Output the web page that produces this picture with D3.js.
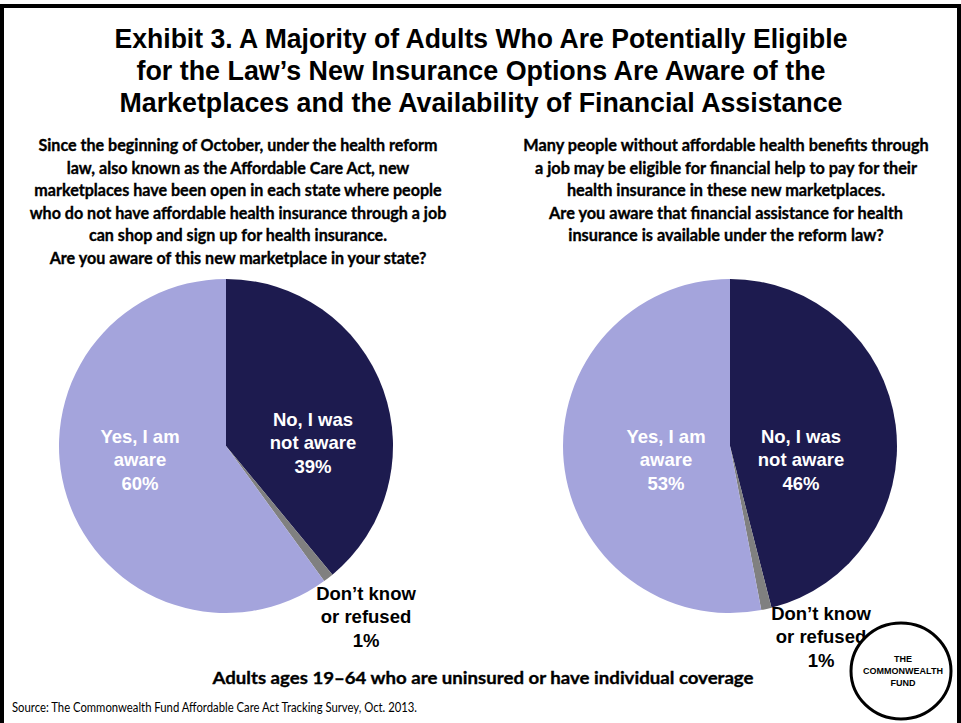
<!DOCTYPE html>
<html>
<head>
<meta charset="utf-8">
<script src="https://cdn.jsdelivr.net/npm/d3@7"></script>
<style>
  html, body { margin: 0; padding: 0; background: #fff; }
  svg { display: block; }
</style>
</head>
<body>
<script>
// Survey responses (percent of adults 19–64 uninsured or with individual coverage)
const categories = ["No, I was not aware", "Don’t know or refused", "Yes, I am aware"];
const marketplaceValues = [39, 1, 60];
const assistanceValues = [46, 1, 53];
const sliceColors = ["#1d1b4f", "#808080", "#a4a4dc"];

const titleLines = [
  "Exhibit 3. A Majority of Adults Who Are Potentially Eligible",
  "for the Law’s New Insurance Options Are Aware of the",
  "Marketplaces and the Availability of Financial Assistance"
];
const leftQuestion = [
  "Since the beginning of October, under the health reform",
  "law, also known as the Affordable Care Act, new",
  "marketplaces have been open in each state where people",
  "who do not have affordable health insurance through a job",
  "can shop and sign up for health insurance.",
  "Are you aware of this new marketplace in your state?"
];
const rightQuestion = [
  "Many people without affordable health benefits through",
  "a job may be eligible for financial help to pay for their",
  "health insurance in these new marketplaces.",
  "Are you aware that financial assistance for health",
  "insurance is available under the reform law?"
];
const noLabel = ["No, I was", "not aware"];
const yesLabel = ["Yes, I am", "aware"];
const dkLabel = ["Don’t know", "or refused"];
const footnote = "Adults ages 19–64 who are uninsured or have individual coverage";
const sourceText = "Source: The Commonwealth Fund Affordable Care Act Tracking Survey, Oct. 2013.";
const logoLines = ["THE", "COMMONWEALTH", "FUND"];

const W = 961, H = 723;
const svg = d3.select("body").append("svg").attr("width", W).attr("height", H);

// frame
svg.append("rect").attr("x", 0).attr("y", 4).attr("width", 4).attr("height", H - 4).attr("fill", "#000");
svg.append("rect").attr("x", 0).attr("y", 4).attr("width", W).attr("height", 4).attr("fill", "#000");
svg.append("rect").attr("x", 957).attr("y", 4).attr("width", 4).attr("height", H - 4).attr("fill", "#000");

// title
const titleFont = "'Liberation Sans Narrow', 'Arial Narrow', 'Liberation Sans', Arial, sans-serif";
const titleWidths = [733, 689, 723];
svg.append("g").selectAll("text").data(titleLines).join("text")
  .attr("x", 481).attr("y", (d, i) => 48 + i * 32)
  .attr("text-anchor", "middle")
  .attr("font-family", titleFont).attr("font-weight", "bold").attr("font-size", 27)
  .attr("textLength", (d, i) => titleWidths[i]).attr("lengthAdjust", "spacingAndGlyphs")
  .attr("fill", "#000").text(d => d);

const qFont = "Lato, 'Open Sans', sans-serif";
function question(lines, cx, size) {
  svg.append("g").selectAll("text").data(lines).join("text")
    .attr("x", cx).attr("y", (d, i) => 151 + i * 22.6)
    .attr("text-anchor", "middle")
    .attr("font-family", qFont).attr("font-weight", "bold").attr("font-size", size)
    .attr("fill", "#000").attr("stroke", "#000").attr("stroke-width", 0.35)
    .text(d => d);
}
question(leftQuestion, 238, 16.1);
question(rightQuestion, 726, 16.3);

// pies
const radius = 167;
const pie = d3.pie().sort(null).value(d => d);
const arc = d3.arc().innerRadius(0).outerRadius(radius);
const color = d3.scaleOrdinal().domain(categories).range(sliceColors);
const labelFont = "'Liberation Sans', Arial, sans-serif";

function drawPie(values, cx, cy, noPos, yesPos, dkPos) {
  const g = svg.append("g").attr("transform", `translate(${cx},${cy})`);
  const arcs = pie(values);
  g.selectAll("path").data(arcs).join("path")
    .attr("d", arc)
    .attr("fill", (d, i) => color(categories[i]));

  const block = (lines, pos, fill) => {
    svg.append("g").selectAll("text").data(lines).join("text")
      .attr("x", pos[0]).attr("y", (d, i) => pos[1] + i * 23.3)
      .attr("text-anchor", "middle")
      .attr("font-family", labelFont).attr("font-weight", "bold").attr("font-size", 18.5)
      .attr("fill", fill).text(d => d);
  };
  block([...noLabel, values[0] + "%"], noPos, "#fff");
  block([...yesLabel, values[2] + "%"], yesPos, "#fff");
  block([...dkLabel, values[1] + "%"], dkPos, "#000");
}
drawPie(marketplaceValues, 226, 446, [313, 426], [140, 443], [366, 600]);
drawPie(assistanceValues, 730, 446, [801, 443], [666, 443], [821, 620]);

// footnote & source
svg.append("text").attr("x", 483).attr("y", 684)
  .attr("text-anchor", "middle")
  .attr("font-family", qFont).attr("font-weight", "bold").attr("font-size", 17.5)
  .attr("textLength", 541).attr("lengthAdjust", "spacingAndGlyphs")
  .attr("fill", "#000").attr("stroke", "#000").attr("stroke-width", 0.35)
  .text(footnote);
svg.append("text").attr("x", 12).attr("y", 712)
  .attr("font-family", qFont).attr("font-size", 12.5)
  .attr("textLength", 405).attr("lengthAdjust", "spacingAndGlyphs")
  .attr("fill", "#000").text(sourceText);

// logo
svg.append("ellipse").attr("cx", 901).attr("cy", 671).attr("rx", 50).attr("ry", 48)
  .attr("fill", "#fff").attr("stroke", "#000").attr("stroke-width", 3);
svg.append("g").selectAll("text").data(logoLines).join("text")
  .attr("x", 903).attr("y", (d, i) => 662 + i * 12)
  .attr("text-anchor", "middle")
  .attr("font-family", labelFont).attr("font-weight", "bold").attr("font-size", 9)
  .attr("fill", "#000").text(d => d);
</script>
</body>
</html>
